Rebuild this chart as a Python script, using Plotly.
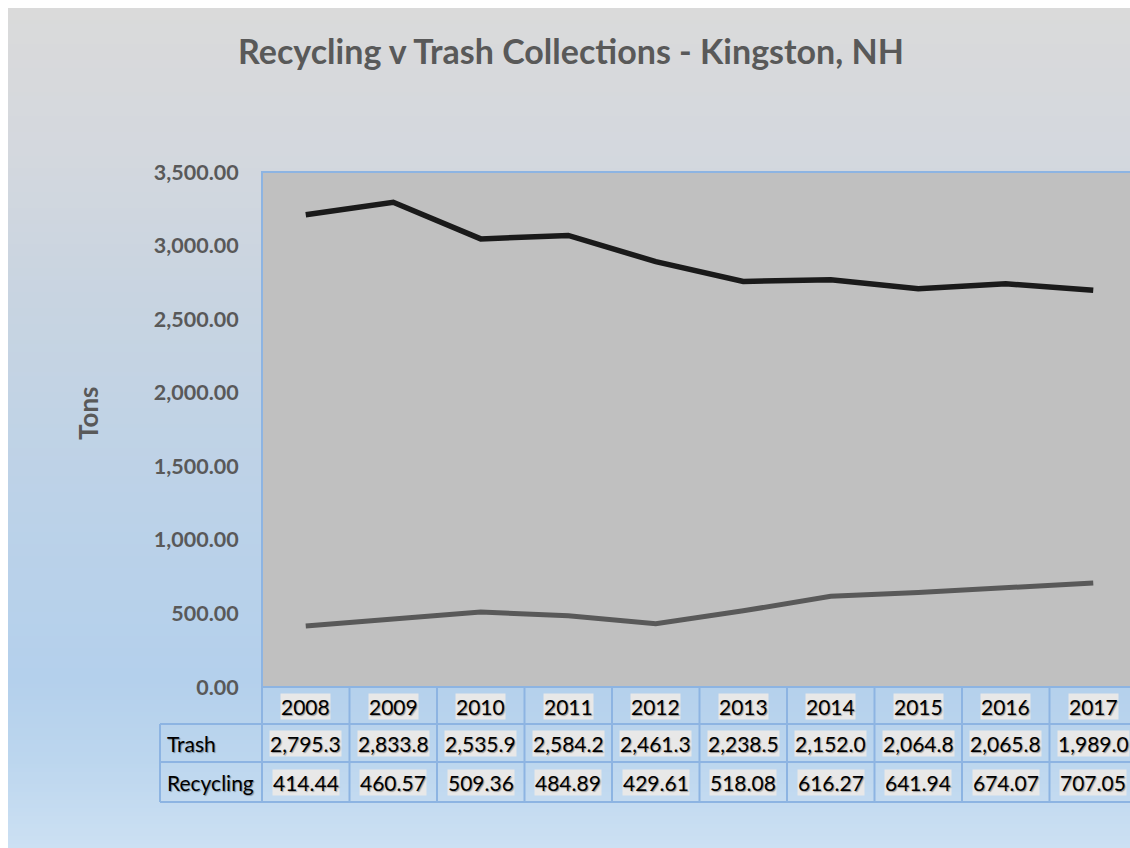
import plotly.graph_objects as go

# ---------------- data ----------------
years = [2008, 2009, 2010, 2011, 2012, 2013, 2014, 2015, 2016, 2017]
trash = [2795.3, 2833.8, 2535.9, 2584.2, 2461.3, 2238.5, 2152.0, 2064.8, 2065.8, 1989.0]
recycling = [414.44, 460.57, 509.36, 484.89, 429.61, 518.08, 616.27, 641.94, 674.07, 707.05]
y_ticks = [0, 500, 1000, 1500, 2000, 2500, 3000, 3500]
title_text = "Recycling v Trash Collections - Kingston, NH"
y_title = "Tons"
series_names = ["Trash", "Recycling"]

# ---------------- layout geometry (page pixels, figure at page origin) ----------------
FIG_W, FIG_H = 1130, 848
ML, MR, MT, MB = 262, 0, 172, 161
PLOT_W = FIG_W - ML - MR
PLOT_H = FIG_H - MT - MB
COL_W = 87.5
EDGE = 8  # white border of the page


def pxp(x):
    return (x - ML) / PLOT_W


def pyp(y):
    return (FIG_H - MB - y) / PLOT_H


FONT = "Lato"
GRAY = "#595959"
BORDER = "#8db4e2"

fig = go.Figure()
fig.add_trace(go.Scatter(x=years, y=recycling, name="Recycling", mode="lines",
                         stackgroup="s", fill="none",
                         line=dict(color="#595959", width=5)))
fig.add_trace(go.Scatter(x=years, y=trash, name="Trash", mode="lines",
                         stackgroup="s", fill="none",
                         line=dict(color="#1a1a1a", width=5.5)))

shapes = []
# background gradient
stops = [(8, (218, 218, 218)), (150, (212, 216, 222)), (300, (200, 212, 225)),
         (500, (188, 210, 232)), (680, (180, 208, 236)), (760, (188, 214, 238)),
         (848, (204, 224, 243))]


def col_at(y):
    for (y0, c0), (y1, c1) in zip(stops[:-1], stops[1:]):
        if y0 <= y <= y1:
            t = (y - y0) / (y1 - y0)
            return "rgb(%d,%d,%d)" % tuple(round(a + (b - a) * t) for a, b in zip(c0, c1))
    return "rgb(%d,%d,%d)" % stops[-1][1]


step = 4
y = EDGE
while y < FIG_H:
    shapes.append(dict(type="rect", xref="paper", yref="paper", layer="below",
                       x0=pxp(EDGE), x1=pxp(FIG_W + 10), y0=pyp(y + step + 0.5), y1=pyp(y),
                       fillcolor=col_at(y + step / 2), line=dict(width=0)))
    y += step

# plot area
shapes.append(dict(type="rect", xref="paper", yref="paper", layer="below",
                   x0=0, x1=1.02, y0=0, y1=1, fillcolor="#c0c0c0",
                   line=dict(color=BORDER, width=2)))

# table grid
row_bounds = [687, 724, 762, 802]
name_left = 160
ncols = len(years)
for rb in row_bounds[1:]:
    shapes.append(dict(type="line", xref="paper", yref="paper",
                       x0=pxp(name_left), x1=1.02, y0=pyp(rb), y1=pyp(rb),
                       line=dict(color=BORDER, width=2)))
for i in range(ncols + 1):
    xb = i * COL_W / PLOT_W
    shapes.append(dict(type="line", xref="paper", yref="paper",
                       x0=xb, x1=xb, y0=pyp(687), y1=pyp(802),
                       line=dict(color=BORDER, width=2)))
shapes.append(dict(type="line", xref="paper", yref="paper",
                   x0=pxp(name_left), x1=pxp(name_left), y0=pyp(724), y1=pyp(802),
                   line=dict(color=BORDER, width=2)))

annotations = []
shadow = "1px 1px 1px rgba(0,0,0,0.35)"
cell_font = dict(family=FONT, size=21, color="#000000", shadow=shadow)
row_centers = [706, 743, 782]
rows = [[str(yr) for yr in years],
        [f"{v:,.1f}" for v in trash],
        [f"{v:,.2f}" for v in recycling]]
for texts, rc in zip(rows, row_centers):
    for yr, t in zip(years, texts):
        annotations.append(dict(x=yr, y=pyp(rc), xref="x", yref="paper",
                                text=t, showarrow=False, font=cell_font,
                                xanchor="center", yanchor="middle",
                                bgcolor="#e8e8e8", borderpad=0))
for name, rc in zip(series_names, row_centers[1:]):
    annotations.append(dict(x=pxp(name_left + 5), y=pyp(rc), xref="paper", yref="paper",
                            text=name, showarrow=False, xanchor="left", yanchor="middle",
                            font=dict(family=FONT, size=21, color="#000000", shadow=shadow)))
# y axis title
annotations.append(dict(x=pxp(88), y=pyp(413), xref="paper", yref="paper",
                        text=f"<b>{y_title}</b>", showarrow=False, textangle=-90,
                        xanchor="center", yanchor="middle",
                        font=dict(family=FONT, size=26, color=GRAY)))

fig.update_layout(
    width=FIG_W, height=FIG_H,
    margin=dict(l=ML, r=MR, t=MT, b=MB, pad=0),
    paper_bgcolor="white", plot_bgcolor="rgba(0,0,0,0)",
    showlegend=False,
    title=dict(text=f"<b>{title_text}</b>", x=571 / FIG_W, xref="container",
               xanchor="center", y=1 - 52 / FIG_H, yanchor="middle",
               font=dict(family=FONT, size=34, color=GRAY)),
    xaxis=dict(range=[years[0] - 0.5, years[0] - 0.5 + PLOT_W / COL_W],
               showticklabels=False, showgrid=False, zeroline=False, ticks="",
               fixedrange=True),
    yaxis=dict(range=[y_ticks[0], y_ticks[-1]], tickvals=y_ticks,
               ticktext=[f"<b>{t:,.2f}</b>" for t in y_ticks],
               showgrid=False, zeroline=False, ticks="outside", ticklen=18,
               tickcolor="rgba(0,0,0,0)",
               tickfont=dict(family=FONT, size=21.5, color=GRAY), fixedrange=True),
    shapes=shapes, annotations=annotations,
)

fig.write_html(
    "out.html",
    config={"displayModeBar": False},
    post_script=("document.documentElement.style.overflow='hidden';"
                 "document.body.style.overflow='hidden';"
                 "document.body.style.margin='0';"),
)
